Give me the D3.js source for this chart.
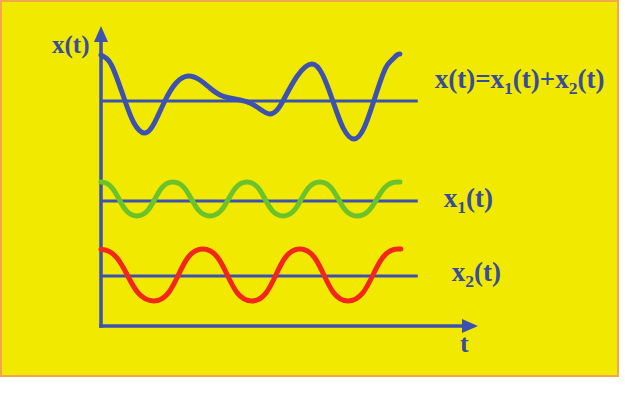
<!DOCTYPE html>
<html><head><meta charset="utf-8">
<script src="https://cdn.jsdelivr.net/npm/d3@7"></script>
<style>html,body{margin:0;padding:0;background:#fff;overflow:hidden}</style>
</head><body><svg id="c" width="625" height="402"></svg>
<script>
// ---- data (t in arbitrary time units, values relative to each row's zero line) ----
const sumT = [0, 0.24, 0.47, 0.81, 1.11, 1.45, 1.78, 2.15, 2.53, 2.93, 3.33, 3.67, 4.01, 4.34, 4.68, 5.02, 5.35, 5.69, 5.93, 6.13, 6.60, 7.10, 7.47, 7.81, 8.15, 8.52, 8.86, 9.19, 9.56, 9.80, 9.97, 10.07];
const sumV = [1.84, 1.64, 1.12, 0, -0.88, -1.28, -0.92, 0, 0.72, 1.00, 0.84, 0.52, 0.24, 0.12, 0.04, -0.08, -0.32, -0.52, -0.36, 0, 0.98, 1.48, 1.04, 0, -1.06, -1.52, -1.08, 0, 1.25, 1.64, 1.84, 1.88];
// x1, x2: turning points (peaks and troughs)
const x1T = [0, 1.21, 2.42, 3.67, 4.92, 6.13, 7.37, 8.62, 9.97, 10.07];
const x1V = [0.76, -0.60, 0.76, -0.60, 0.76, -0.60, 0.76, -0.60, 0.76, 0.76];
const x2T = [0, 1.78, 3.43, 5.08, 6.70, 8.32, 10.0, 10.1];
const x2V = [1.06, -1.00, 1.08, -1.00, 1.08, -1.00, 1.08, 1.08];
const rowLevels = [9, 5, 2];            // zero line of each row on the common value axis
const rowColors = ["#3d52b0", "#6cc22c", "#f2261a"];
const tMax = 12.7, zeroLineEnd = 10.67, yMax = 12;

const svg = d3.select("#c");
const blue = "#3d52b0", textBlue = "#374c9c";

// background panel
svg.append("rect").attr("x", 1).attr("y", 1).attr("width", 617).attr("height", 375)
  .attr("fill", "#f1e900").attr("stroke", "#f3a64a").attr("stroke-width", 2);

const x = d3.scaleLinear().domain([0, tMax]).range([101, 478]);
const y = d3.scaleLinear().domain([0, yMax]).range([326, 26]);

// zero lines
rowLevels.forEach(l => {
  svg.append("line").attr("x1", x(0)).attr("x2", x(zeroLineEnd))
    .attr("y1", y(l)).attr("y2", y(l)).attr("stroke", blue).attr("stroke-width", 3);
});

// axes (library axes, no ticks)
const xa = svg.append("g").attr("transform", `translate(0,${y(0)})`)
  .call(d3.axisBottom(x).ticks(0).tickSizeOuter(0));
const ya = svg.append("g").attr("transform", `translate(${x(0)},0)`)
  .call(d3.axisLeft(y).ticks(0).tickSizeOuter(0));
[xa, ya].forEach(g => g.select(".domain").attr("stroke", blue).attr("stroke-width", 3.5));
xa.select(".domain").attr("d", `M${x(0) - 1.7},0H${x(tMax) - 12}`);
ya.select(".domain").attr("d", `M0,${y(0) + 1.7}V${y(yMax) + 12}`);

// arrow heads
svg.append("path").attr("fill", blue)
  .attr("d", `M${x(tMax)},${y(0)} L${x(tMax) - 16},${y(0) - 7} L${x(tMax) - 16},${y(0) + 7} Z`);
svg.append("path").attr("fill", blue)
  .attr("d", `M${x(0)},${y(yMax)} L${x(0) - 7},${y(yMax) + 16} L${x(0) + 7},${y(yMax) + 16} Z`);

// curves
const series = [[sumT, sumV, d3.curveNatural], [x1T, x1V, d3.curveBumpX], [x2T, x2V, d3.curveBumpX]];
series.forEach(([ts, vs, cv], i) => {
  const pts = ts.map((t, k) => [t, vs[k] + rowLevels[i]]);
  const line = d3.line().x(d => x(d[0])).y(d => y(d[1])).curve(cv);
  svg.append("path").attr("d", line(pts)).attr("fill", "none")
    .attr("stroke", rowColors[i]).attr("stroke-width", 5)
    .attr("stroke-linecap", "round").attr("stroke-linejoin", "round");
});

// text helper: parts = [[text, isSub], ...]
const font = "'Liberation Serif', 'Times New Roman', serif";
function label(px, py, parts, size) {
  const t = svg.append("text").attr("x", px).attr("y", py)
    .attr("font-family", font).attr("font-weight", "bold")
    .attr("font-size", size).attr("fill", textBlue);
  let shifted = false;
  parts.forEach(([s, sub]) => {
    const sp = t.append("tspan").text(s).attr("font-size", sub ? size * 0.65 : size);
    if (sub && !shifted) { sp.attr("dy", 6); shifted = true; }
    else if (!sub && shifted) { sp.attr("dy", -6); shifted = false; }
  });
  return t;
}

label(52, 53, [["x(t)", false]], 25);
label(x(tMax) - 18, 352, [["t", false]], 26);
label(x(zeroLineEnd) + 17, y(rowLevels[0]) - 13, [["x(t)=x", false], ["1", true], ["(t)+x", false], ["2", true], ["(t)", false]], 27);
label(x(zeroLineEnd) + 26, y(rowLevels[1]) + 6, [["x", false], ["1", true], ["(t)", false]], 27);
label(x(zeroLineEnd) + 34, y(rowLevels[2]) + 5, [["x", false], ["2", true], ["(t)", false]], 27);
</script>
</body></html>
